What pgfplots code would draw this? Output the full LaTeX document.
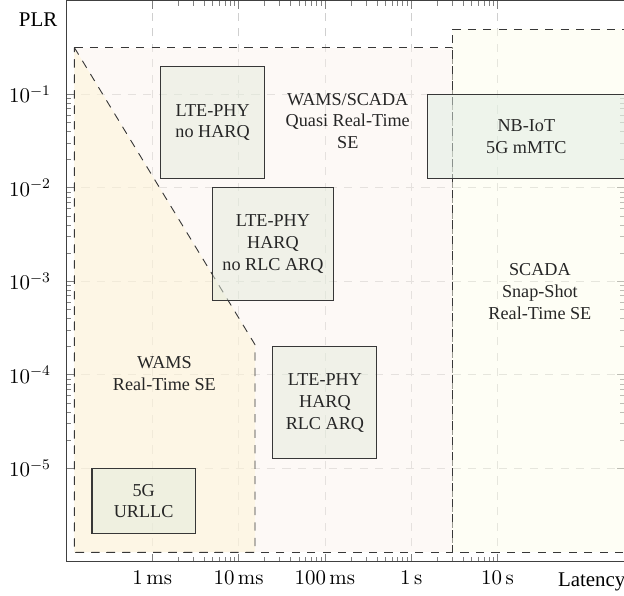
\RequirePackage{fix-cm}
\documentclass[border=0pt]{standalone}
\usepackage[no-math]{fontspec}
\setmainfont{Liberation Serif}
\usepackage{pgfplots}
\pgfplotsset{compat=1.18}
\definecolor{pinkreg}{RGB}{251,243,237}
\definecolor{yelreg}{RGB}{253,243,214}
\definecolor{scadareg}{RGB}{253,253,235}
\definecolor{boxfill}{RGB}{227,235,220}
\definecolor{iotfill}{RGB}{222,236,225}
\definecolor{edge}{RGB}{55,55,55}
\begin{document}
\begin{tikzpicture}
\begin{axis}[
  at={(0,0)}, anchor=south west,
  scale only axis,
  width=307.45pt, height=308.55pt,
  xmode=log, ymode=log,
  xmin=1e-4, xmax=300, ymin=1e-6, ymax=1,
  xtick={1e-3,1e-2,1e-1,1,10},
  xticklabels={$1\,\mathrm{ms}$,$10\,\mathrm{ms}$,$100\,\mathrm{ms}$,$1\,\mathrm{s}$,$10\,\mathrm{s}$},
  ytick={1e-5,1e-4,1e-3,1e-2,1e-1},
  minor xtick={}, minor ytick={},
  grid=major,
  grid style={gray!38, dash pattern=on 4.5pt off 4pt, line width=0.4pt},
  axis line style={black!75, line width=0.5pt},
  tick style={gray, line width=0.4pt},
  tick label style={font=\fontsize{11.5}{13.8}\selectfont},
  label style={font=\fontsize{11.5}{13.8}\selectfont},
  xticklabel style={yshift=-1.6pt},
  yticklabel style={xshift=-4.8pt},
  xlabel={Latency},
  xlabel style={at={(rel axis cs:1,0)}, anchor=north east, inner sep=0pt, xshift=0.4pt, yshift=-5.6pt},
  ylabel={PLR},
  ylabel style={rotate=-90, at={(rel axis cs:0,1)}, anchor=north east, inner sep=0pt, xshift=-4.6pt, yshift=-6.6pt},
  regionline/.style={draw=edge, line width=0.5pt, dash pattern=on 4.5pt off 4pt, fill opacity=0.5},
  boxline/.style={draw=edge, line width=0.6pt, fill opacity=0.5},
]
% WAMS/SCADA quasi real-time region
\addplot[regionline, fill=pinkreg] coordinates {(1.25e-4,0.316) (3,0.316) (3,1.26e-6) (1.25e-4,1.26e-6)} -- cycle;
% SCADA snap-shot region
\addplot[regionline, fill=scadareg] coordinates {(3,0.5) (1000,0.5) (1000,1.26e-6) (3,1.26e-6)} -- cycle;
% WAMS real-time region
\addplot[regionline, fill=yelreg] coordinates {(1.25e-4,0.316) (0.0155,2.1e-4) (0.0155,1.26e-6) (1.25e-4,1.26e-6)} -- cycle;
% technology boxes
\addplot[boxline, fill=boxfill] coordinates {(1.25e-3,0.2) (0.02,0.2) (0.02,0.0126) (1.25e-3,0.0126)} -- cycle;
\addplot[boxline, fill=boxfill] coordinates {(5e-3,0.01) (0.125,0.01) (0.125,6.3e-4) (5e-3,6.3e-4)} -- cycle;
\addplot[boxline, fill=boxfill] coordinates {(0.025,2e-4) (0.4,2e-4) (0.4,1.26e-5) (0.025,1.26e-5)} -- cycle;
\addplot[boxline, fill=boxfill] coordinates {(2e-4,1e-5) (3.15e-3,1e-5) (3.15e-3,2e-6) (2e-4,2e-6)} -- cycle;
\addplot[boxline, fill=iotfill] coordinates {(1.55,0.1) (300,0.1) (300,0.0125) (1.55,0.0125)} -- cycle;
% labels
\node[align=center, text=black!85] at (axis cs:0.184,0.0518) {WAMS/SCADA\\Quasi Real-Time\\SE};
\node[align=center, text=black!85] at (axis cs:31,7.8e-4) {SCADA\\Snap-Shot\\Real-Time SE};
\node[align=center, text=black!85] at (axis cs:1.38e-3,1.03e-4) {WAMS\\Real-Time SE};
\node[align=center, text=black!85] at (axis cs:5e-3,0.05) {LTE-PHY\\no HARQ};
\node[align=center, text=black!85] at (axis cs:0.025,2.51e-3) {LTE-PHY\\HARQ\\no RLC ARQ};
\node[align=center, text=black!85] at (axis cs:0.1,5.02e-5) {LTE-PHY\\HARQ\\RLC ARQ};
\node[align=center, text=black!85] at (axis cs:7.94e-4,4.47e-6) {5G\\URLLC};
\node[align=center, text=black!85] at (axis cs:21.6,0.0354) {NB-IoT\\5G mMTC};
\end{axis}
\pgfresetboundingbox
\path[use as bounding box] (-36.3pt,-18.26pt) rectangle (306.9pt,308.99pt);
\end{tikzpicture}
\end{document}
